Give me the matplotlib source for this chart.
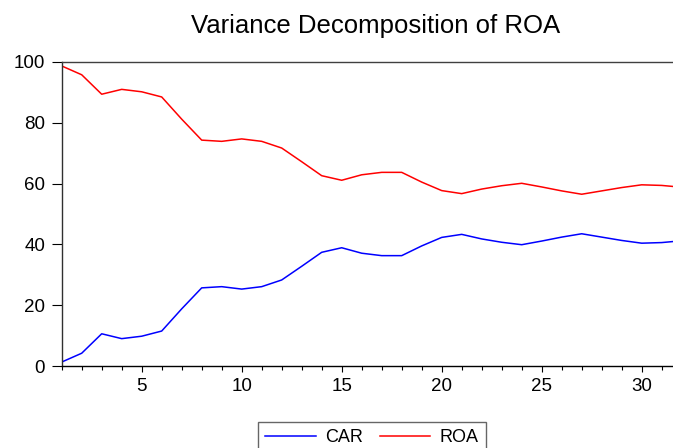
import matplotlib
matplotlib.use('Agg')
import matplotlib.pyplot as plt
from matplotlib.ticker import MultipleLocator

plt.rcParams['font.family'] = ['Liberation Sans', 'DejaVu Sans']

# forecast horizon (periods)
periods = list(range(1, 33))

car = [1.3, 4.2, 10.6, 9.0, 9.8, 11.5, 18.8, 25.7, 26.1, 25.3,
       26.1, 28.3, 32.8, 37.4, 38.9, 37.1, 36.3, 36.3, 39.5, 42.3,
       43.3, 41.8, 40.7, 39.9, 41.1, 42.4, 43.5, 42.4, 41.3, 40.4,
       40.6, 41.2]
roa = [98.7, 95.8, 89.4, 91.0, 90.2, 88.5, 81.2, 74.3, 73.9, 74.7,
       73.9, 71.7, 67.2, 62.6, 61.1, 62.9, 63.7, 63.7, 60.5, 57.7,
       56.7, 58.2, 59.3, 60.1, 58.9, 57.6, 56.5, 57.6, 58.7, 59.6,
       59.4, 58.8]

fig = plt.figure(figsize=(6.73, 4.48), dpi=100)
ax = fig.add_axes([61.7 / 673, (448 - 366) / 448, 620 / 673, 304 / 448])

ax.plot(periods, car, color='#0000ff', lw=1.1, label='CAR')
ax.plot(periods, roa, color='#ff0000', lw=1.1, label='ROA')

ax.set_xlim(1, 32)
ax.set_ylim(0, 100)
ax.xaxis.set_major_locator(MultipleLocator(5))
ax.xaxis.set_minor_locator(MultipleLocator(1))
ax.yaxis.set_major_locator(MultipleLocator(20))
ax.tick_params(axis='x', which='major', direction='out', length=4.5, width=0.8, labelsize=13.5, pad=4)
ax.tick_params(axis='x', which='minor', direction='out', length=3, width=0.8)
ax.tick_params(axis='y', direction='out', length=7, width=0.8, labelsize=13.5, pad=5)

for side in ['left', 'bottom', 'top', 'right']:
    ax.spines[side].set_linewidth(1.0)
ax.spines['top'].set_color('#404040')
ax.spines['left'].set_color('#303030')

fig.text(376 / 673, 1 - 26 / 448, 'Variance Decomposition of ROA',
         ha='center', va='center', fontsize=18.5)

leg = ax.legend(loc='upper center', bbox_to_anchor=(0.5, (366 - 422) / 304),
                borderaxespad=0, ncol=2, fontsize=13, frameon=True,
                fancybox=False, edgecolor='#404040', handlelength=2.8,
                columnspacing=0.95, handletextpad=0.5, borderpad=0.4)
leg.get_frame().set_linewidth(1.0)

fig.savefig('out.png', dpi=100)
